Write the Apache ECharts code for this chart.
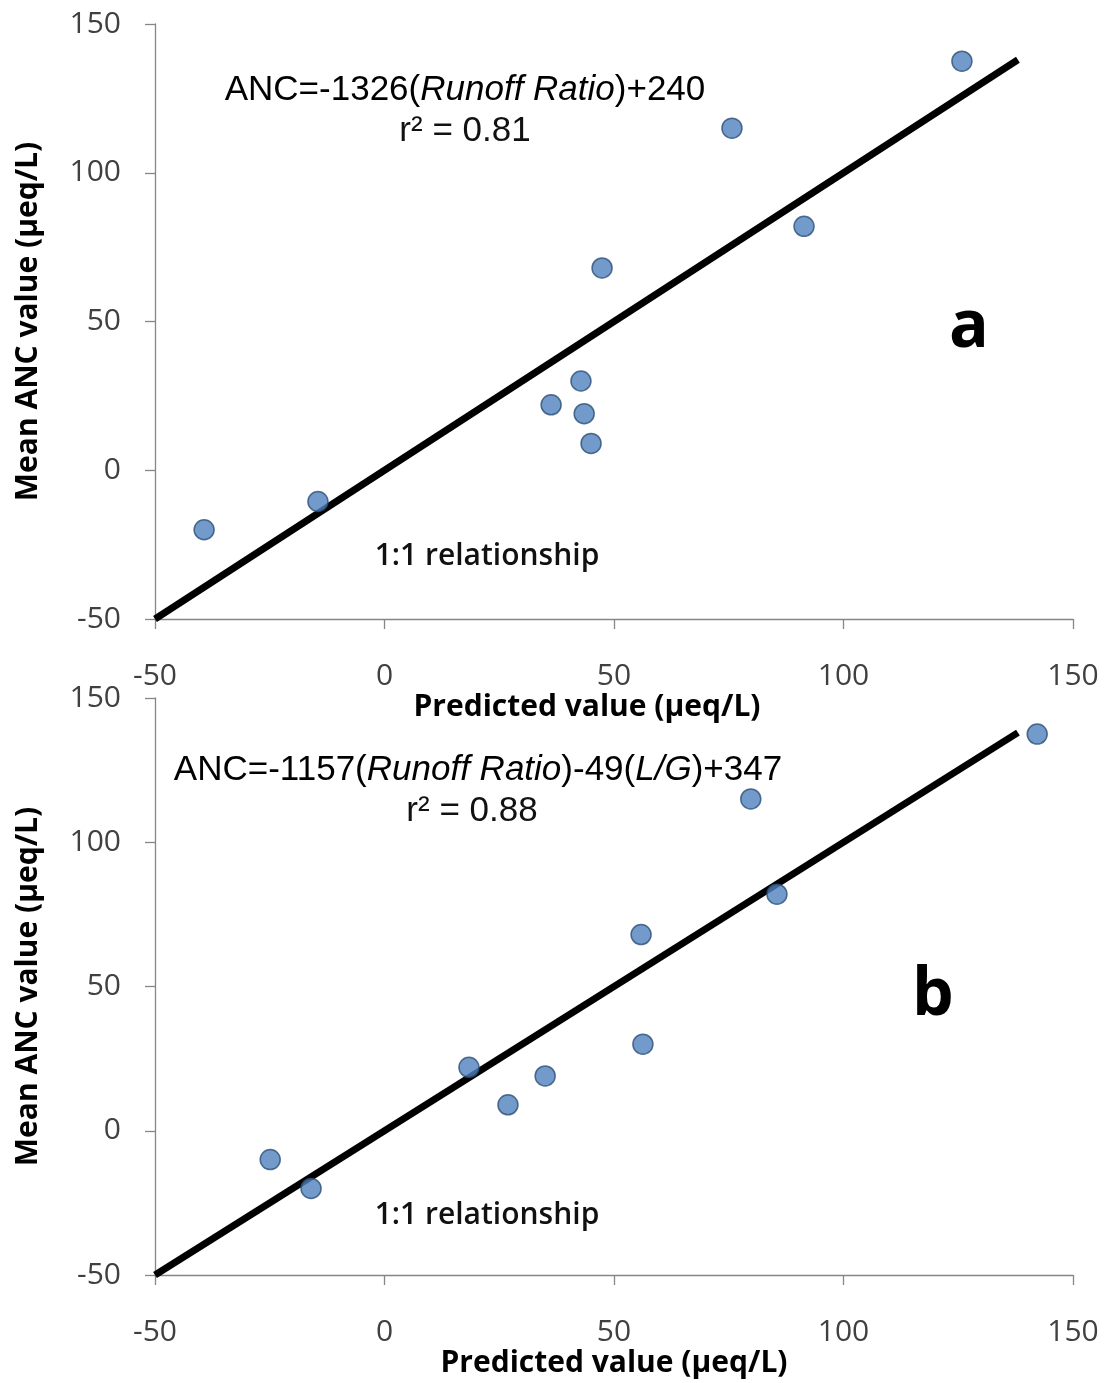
<!DOCTYPE html>
<html>
<head>
<meta charset="utf-8">
<script src="https://cdn.jsdelivr.net/npm/echarts@6/dist/echarts.min.js"></script>
<style>
html,body{margin:0;padding:0;background:#fff;}
#chart{width:1107px;height:1383px;}
</style>
</head>
<body>
<div id="chart"></div>
<script>
// Panel a: predicted (x) vs mean ANC (y)
const predA = [-39.3, -14.5, 36.3, 42.8, 43.5, 45.0, 47.4, 75.7, 91.4, 125.8];
const ancA  = [-20, -10.5, 22, 30, 19, 9, 68, 115, 82, 137.5];
// Panel b
const predB = [-24.9, -16, 18.4, 26.9, 35.0, 55.9, 56.3, 79.8, 85.5, 142.2];
const ancB  = [-10, -20, 22, 9, 19, 68, 30, 115, 82, 137.5];
// 1:1 relationship line endpoints
const oneToOne = [-50, 138];
const axisTicks = [-50, 0, 50, 100, 150];

const tickFont = {fontFamily: 'Open Sans', fontSize: 30, color: '#404040'};
const titleFont = {fontFamily: 'Open Sans', fontWeight: 'bold', fontSize: 30, color: '#000'};
const axisLineStyle = {color: '#868686', width: 1.3};

function xAxisCfg(gi, namePad) {
  return {
    type: 'value', gridIndex: gi, min: axisTicks[0], max: axisTicks[axisTicks.length - 1], interval: 50,
    name: 'Predicted value (μeq/L)', nameLocation: 'middle', nameGap: 73,
    nameTextStyle: Object.assign({padding: namePad}, titleFont),
    axisLine: {show: true, onZero: false, lineStyle: axisLineStyle},
    axisTick: {show: true, length: 10, lineStyle: axisLineStyle},
    axisLabel: Object.assign({margin: 42}, tickFont),
    splitLine: {show: false}
  };
}
function yAxisCfg(gi) {
  return {
    type: 'value', gridIndex: gi, min: axisTicks[0], max: axisTicks[axisTicks.length - 1], interval: 50,
    name: 'Mean ANC value (μeq/L)', nameLocation: 'middle', nameGap: 112,
    nameTextStyle: titleFont,
    axisLine: {show: true, onZero: false, lineStyle: axisLineStyle},
    axisTick: {show: true, length: 10, lineStyle: axisLineStyle},
    axisLabel: Object.assign({margin: 34}, tickFont),
    splitLine: {show: false}
  };
}
const markerStyle = {color: '#4F81BD', borderColor: '#2C4D75', borderWidth: 1.5};
function pts(xs, ys) { return xs.map((x, i) => [x, ys[i]]); }

const chart = echarts.init(document.getElementById('chart'), null, {renderer: 'canvas'});
const eqRich = {
  n: {fontFamily: 'Liberation Sans', fontSize: 35, color: '#111'},
  i: {fontFamily: 'Liberation Sans', fontSize: 35, fontStyle: 'italic', color: '#111'}
};
chart.setOption({
  animation: false,
  backgroundColor: '#fff',
  grid: [
    {left: 155, top: 24, width: 918, height: 595},
    {left: 155, top: 698, width: 918, height: 577}
  ],
  xAxis: [xAxisCfg(0, [0, 54, 0, 0]), xAxisCfg(1, [0, 0, 0, 0])],
  yAxis: [yAxisCfg(0), yAxisCfg(1)],
  series: [
    {type: 'line', xAxisIndex: 0, yAxisIndex: 0, data: oneToOne.map(v => [v, v]),
     symbol: 'none', lineStyle: {color: '#000', width: 7}, z: 2},
    {type: 'scatter', xAxisIndex: 0, yAxisIndex: 0, data: pts(predA, ancA),
     symbolSize: 20, itemStyle: markerStyle, z: 3},
    {type: 'line', xAxisIndex: 1, yAxisIndex: 1, data: oneToOne.map(v => [v, v]),
     symbol: 'none', lineStyle: {color: '#000', width: 7}, z: 2},
    {type: 'scatter', xAxisIndex: 1, yAxisIndex: 1, data: pts(predB, ancB),
     symbolSize: 20, itemStyle: markerStyle, z: 3}
  ],
  graphic: [
    {type: 'text', x: 465, y: 90, style: {
      text: '{n|ANC=-1326(}{i|Runoff Ratio}{n|)+240}', rich: eqRich,
      align: 'center', verticalAlign: 'middle'}},
    {type: 'text', x: 465, y: 131, style: {
      text: 'r² = 0.81', fontFamily: 'Liberation Sans', fontSize: 35, fill: '#111',
      align: 'center', verticalAlign: 'middle'}},
    {type: 'text', x: 478, y: 770, style: {
      text: '{n|ANC=-1157(}{i|Runoff Ratio}{n|)-49(}{i|L/G}{n|)+347}', rich: eqRich,
      align: 'center', verticalAlign: 'middle'}},
    {type: 'text', x: 472, y: 811, style: {
      text: 'r² = 0.88', fontFamily: 'Liberation Sans', fontSize: 35, fill: '#111',
      align: 'center', verticalAlign: 'middle'}},
    {type: 'text', x: 487, y: 556, style: {
      text: '1:1 relationship', fontFamily: 'Open Sans', fontWeight: 600, fontSize: 30, fill: '#111',
      align: 'center', verticalAlign: 'middle'}},
    {type: 'text', x: 487, y: 1215, style: {
      text: '1:1 relationship', fontFamily: 'Open Sans', fontWeight: 600, fontSize: 30, fill: '#111',
      align: 'center', verticalAlign: 'middle'}},
    {type: 'text', x: 969, y: 328, style: {
      text: 'a', fontFamily: 'Open Sans', fontWeight: 'bold', fontSize: 66, fill: '#000',
      align: 'center', verticalAlign: 'middle'}},
    {type: 'text', x: 933, y: 996, style: {
      text: 'b', fontFamily: 'Open Sans', fontWeight: 'bold', fontSize: 66, fill: '#000',
      align: 'center', verticalAlign: 'middle'}}
  ]
});
</script>
</body>
</html>
